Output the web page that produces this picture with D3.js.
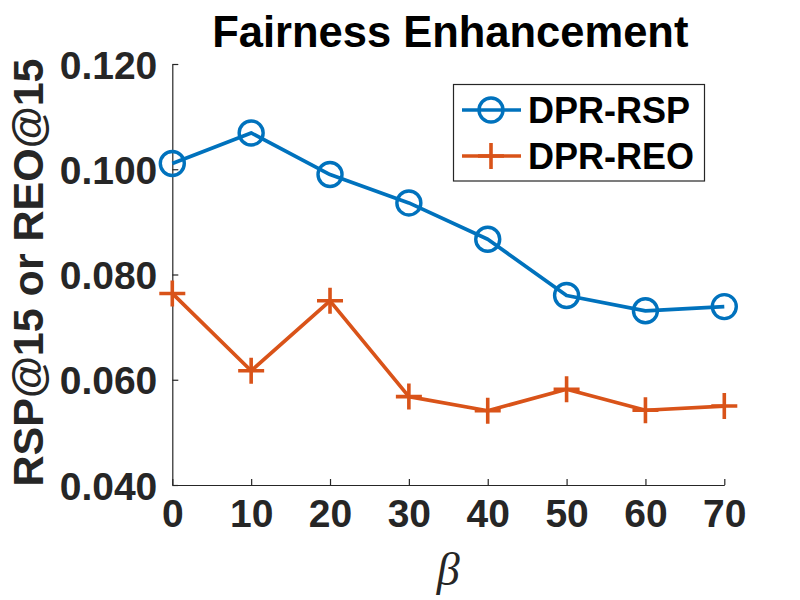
<!DOCTYPE html>
<html><head><meta charset="utf-8">
<script src="https://cdn.jsdelivr.net/npm/d3@7"></script>
<style>body{margin:0;background:#fff}svg{display:block}</style>
</head><body>
<svg id="chart" width="800" height="600"></svg>
<script>
const betas = [0, 10, 20, 30, 40, 50, 60, 70];
const rsp = [0.1011, 0.1069, 0.0990, 0.0936, 0.0867, 0.0760, 0.0731, 0.0739];
const reo = [0.0764, 0.0617, 0.0750, 0.0568, 0.0541, 0.0582, 0.0542, 0.0550];
const yTicks = [0.040, 0.060, 0.080, 0.100, 0.120];
const xTicks = [0, 10, 20, 30, 40, 50, 60, 70];
const seriesNames = ["DPR-RSP", "DPR-REO"];
const colors = ["#0072BD", "#D95319"];

const svg = d3.select("#chart");
const L = 172.3, R = 724.3, T = 64, B = 485;
const x = d3.scaleLinear().domain([0, 70]).range([L, R]);
const y = d3.scaleLinear().domain([0.04, 0.12]).range([B, T]);
const font = "'Liberation Sans', Arial, Helvetica, sans-serif";
const axisColor = "#262626";

// axes
const xAxis = svg.append("g").attr("transform", `translate(0,${B})`)
  .call(d3.axisBottom(x).tickValues(xTicks).tickSizeInner(-6).tickSizeOuter(0).tickPadding(14).tickFormat(d3.format("d")));
const yAxis = svg.append("g").attr("transform", `translate(${L},0)`)
  .call(d3.axisLeft(y).tickValues(yTicks).tickSizeInner(-6).tickSizeOuter(0).tickPadding(15).tickFormat(d3.format(".3f")));
[xAxis, yAxis].forEach(g => {
  g.select(".domain").attr("stroke", axisColor).attr("stroke-width", 1.2);
  g.selectAll(".tick line").attr("stroke", axisColor).attr("stroke-width", 1.2);
  g.selectAll(".tick text").attr("fill", axisColor).style("font-family", font)
    .style("font-weight", "bold").style("font-size", "39px");
});
xAxis.selectAll(".tick text").attr("dy", "0.71em");
yAxis.selectAll(".tick text").attr("dy", "0.36em");

// title
svg.append("text").attr("x", (L + R) / 2 + 2).attr("y", 47).attr("text-anchor", "middle")
  .style("font-family", font).style("font-weight", "bold").style("font-size", "43.5px")
  .attr("fill", "#000").text("Fairness Enhancement");

// y label
svg.append("text").attr("transform", `translate(43,${(T + B) / 2 - 2}) rotate(-90)`)
  .attr("text-anchor", "middle")
  .style("font-family", font).style("font-weight", "bold").style("font-size", "43px")
  .attr("fill", axisColor).text("RSP@15 or REO@15");

// x label
svg.append("text").attr("x", (L + R) / 2).attr("y", 585).attr("text-anchor", "middle")
  .style("font-family", "'Liberation Serif', 'Times New Roman', serif").style("font-style", "italic")
  .style("font-size", "46px").attr("fill", axisColor).text("β");

const line = d3.line().x((d, i) => x(betas[i])).y(d => y(d));
const data = [rsp, reo];

function drawMarker(g, type, cx, cy, color) {
  if (type === 0) {
    g.append("circle").attr("cx", cx).attr("cy", cy).attr("r", 12)
      .attr("fill", "none").attr("stroke", color).attr("stroke-width", 3.4);
  } else {
    g.append("path").attr("d", `M${cx - 13},${cy}H${cx + 13}M${cx},${cy - 13}V${cy + 13}`)
      .attr("stroke", color).attr("stroke-width", 3.6).attr("fill", "none");
  }
}

data.forEach((vals, s) => {
  const g = svg.append("g");
  g.append("path").datum(vals).attr("d", line).attr("fill", "none")
    .attr("stroke", colors[s]).attr("stroke-width", 3.7).attr("stroke-linejoin", "round");
  vals.forEach((v, i) => drawMarker(g, s, x(betas[i]), y(v), colors[s]));
});

// legend
const lg = svg.append("g");
lg.append("rect").attr("x", 453.5).attr("y", 84.5).attr("width", 251).attr("height", 96.5)
  .attr("fill", "#fff").attr("stroke", axisColor).attr("stroke-width", 1.2);
const rowY = [110, 156];
seriesNames.forEach((name, s) => {
  lg.append("line").attr("x1", 462).attr("x2", 521).attr("y1", rowY[s]).attr("y2", rowY[s])
    .attr("stroke", colors[s]).attr("stroke-width", 3.7);
  drawMarker(lg, s, 491, rowY[s], colors[s]);
  lg.append("text").attr("x", 528).attr("y", rowY[s]).attr("dy", "0.36em")
    .style("font-family", font).style("font-weight", "bold").style("font-size", "36px")
    .attr("fill", "#000").text(name);
});
</script>
</body></html>
